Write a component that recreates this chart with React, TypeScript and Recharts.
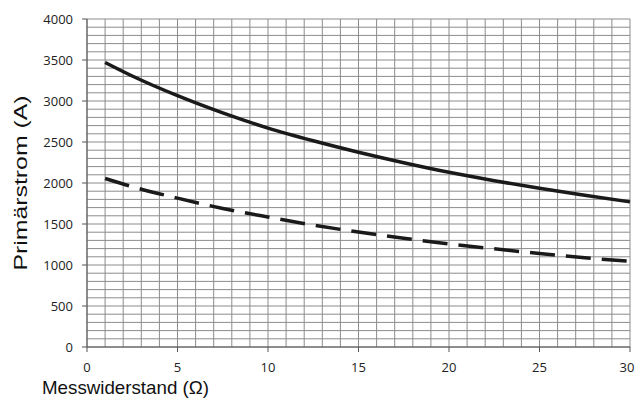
import React from 'react';
import { LineChart, Line, XAxis, YAxis, CartesianGrid } from 'recharts';

// Messwiderstand (Ω) on x
const widerstand = [1, 2.5, 5, 7.5, 10, 12.5, 15, 17.5, 20, 22.5, 25, 27.5, 30];
// Primärstrom (A), solid curve
const stromOben = [3470, 3305, 3065, 2855, 2670, 2515, 2375, 2247, 2130, 2028, 1935, 1851, 1770];
// Primärstrom (A), dashed curve
const stromUnten = [2055, 1955, 1815, 1690, 1585, 1487, 1402, 1326, 1258, 1197, 1140, 1088, 1045];

const xLabelTicks = [0, 5, 10, 15, 20, 25, 30];
const yLabelTicks = [0, 500, 1000, 1500, 2000, 2500, 3000, 3500, 4000];

// grid lines every 1 Ω and every 100 A
const xGridTicks = Array.from({ length: 31 }, (_, i) => i);
const yGridTicks = Array.from({ length: 41 }, (_, i) => i * 100);

const data = widerstand.map((r, i) => ({ r, oben: stromOben[i], unten: stromUnten[i] }));

const AXIS = '#555555';
const GRID = '#8c8c8c';
const INK = '#1a1a1a';
const FONT = '"Open Sans", "Liberation Sans", Arial, sans-serif';
const TITLE_FONT = '"Liberation Sans", Arial, sans-serif';

const XTick = ({ x, y, payload }: any) => {
  if (!xLabelTicks.includes(payload.value)) return null;
  const tx = payload.value === 30 ? x - 3 : x;
  return (
    <g>
      <line x1={x} y1={y - 5} x2={x} y2={y} stroke={AXIS} strokeWidth={1} />
      <text x={tx} y={y + 20} textAnchor="middle" fontSize={13} fill="#222" fontFamily={FONT}>
        {payload.value}
      </text>
    </g>
  );
};

const YTick = ({ x, y, payload }: any) => {
  if (!yLabelTicks.includes(payload.value)) return null;
  return (
    <g>
      <line x1={x} y1={y} x2={x + 5} y2={y} stroke={AXIS} strokeWidth={1} />
      <text x={x - 9} y={y + 4.5} textAnchor="end" fontSize={13} fill="#222" fontFamily={FONT}>
        {payload.value}
      </text>
    </g>
  );
};

const hGrid = ({ yAxis, offset }: any) =>
  yGridTicks.map((v) =>
    yAxis && typeof yAxis.scale === 'function'
      ? yAxis.scale(v)
      : offset.top + offset.height * (1 - v / 4000)
  );

const vGrid = ({ xAxis, offset }: any) =>
  xGridTicks.map((v) =>
    xAxis && typeof xAxis.scale === 'function'
      ? xAxis.scale(v)
      : offset.left + offset.width * (v / 30)
  );

export default function App() {
  return (
    <div style={{ position: 'absolute', left: 0, top: 0, width: 636, height: 398, background: '#fff' }}>
      <LineChart width={636} height={398} data={data} margin={{ top: 19, right: 6, left: 0, bottom: 0 }}>
        <CartesianGrid
          stroke={GRID}
          strokeWidth={1}
          horizontalCoordinatesGenerator={hGrid}
          verticalCoordinatesGenerator={vGrid}
        />
        <XAxis
          dataKey="r"
          type="number"
          domain={[0, 30]}
          ticks={xGridTicks}
          interval={0}
          height={51}
          tickSize={5}
          tickMargin={0}
          tickLine={false}
          tick={<XTick />}
          axisLine={{ stroke: AXIS }}
        />
        <YAxis
          type="number"
          domain={[0, 4000]}
          ticks={yGridTicks}
          interval={0}
          width={87}
          tickSize={5}
          tickMargin={0}
          tickLine={false}
          tick={<YTick />}
          axisLine={{ stroke: AXIS }}
        />
        <Line
          dataKey="oben"
          type="monotone"
          stroke={INK}
          strokeWidth={3.5}
          dot={false}
          isAnimationActive={false}
        />
        <Line
          dataKey="unten"
          type="monotone"
          stroke={INK}
          strokeWidth={3.5}
          strokeDasharray="25 11"
          dot={false}
          isAnimationActive={false}
        />
      </LineChart>
      <svg width={636} height={398} style={{ position: 'absolute', left: 0, top: 0, pointerEvents: 'none' }}>
        <text
          x={42}
          y={394}
          fontSize={18.5}
          fill="#111"
          fontFamily={TITLE_FONT}
          textLength={167}
          lengthAdjust="spacingAndGlyphs"
        >
          Messwiderstand (Ω)
        </text>
        <text
          transform="translate(27,183) rotate(-90)"
          textAnchor="middle"
          fontSize={18}
          fill="#111"
          fontFamily={TITLE_FONT}
          textLength={175}
          lengthAdjust="spacingAndGlyphs"
        >
          Primärstrom (A)
        </text>
      </svg>
    </div>
  );
}
